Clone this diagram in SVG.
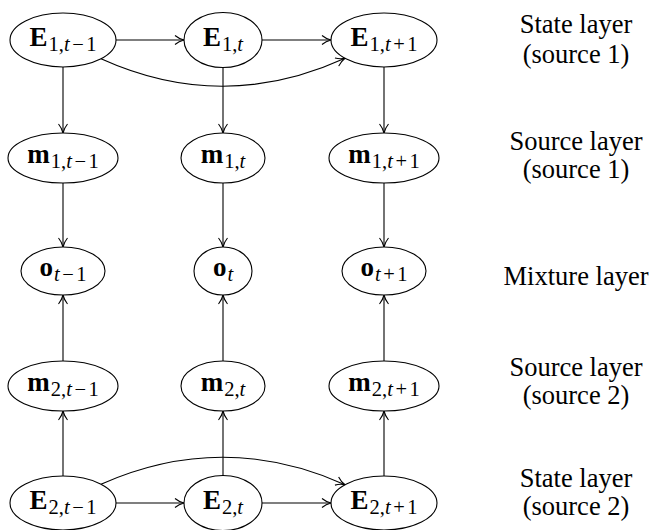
<svg xmlns="http://www.w3.org/2000/svg" width="654" height="530" viewBox="0 0 654 530">
<style>
.node ellipse{fill:#fff;stroke:#000;stroke-width:1.1}
.lbl{font-family:"Liberation Serif","Times New Roman",serif;font-size:27px;fill:#000}
.b{font-weight:bold}
.s{font-size:20.5px}
.i{font-style:italic}
.side{font-family:"Liberation Serif","Times New Roman",serif;font-size:26.5px;fill:#000;text-anchor:middle}
.edge{fill:none;stroke:#000;stroke-width:1.1;marker-end:url(#arr)}
</style>
<defs>
<marker id="arr" markerUnits="userSpaceOnUse" viewBox="-11 -6 13 12" markerWidth="13" markerHeight="12" refX="0" refY="0" orient="auto" overflow="visible">
<path d="M -9 -4.5 C -6 -2 -2 -0.5 0 0 C -2 0.5 -6 2 -9 4.5" fill="none" stroke="#000" stroke-width="1.1"/>
</marker>
</defs>
<g id="connectors">
<path class="edge" d="M116 40 H184"/>
<path class="edge" d="M262 40 H331"/>
<path class="edge" d="M101 58.8 Q223 114 345 58.3"/>
<path class="edge" d="M63 67 V133"/>
<path class="edge" d="M223 67.5 V133"/>
<path class="edge" d="M384 67 V133"/>
<path class="edge" d="M63 183 V247"/>
<path class="edge" d="M223 183 V247"/>
<path class="edge" d="M384 183 V247"/>
<path class="edge" d="M63 361 V295"/>
<path class="edge" d="M223 361 V295"/>
<path class="edge" d="M384 361 V295"/>
<path class="edge" d="M63 476 V411"/>
<path class="edge" d="M223 475.5 V411"/>
<path class="edge" d="M384 476 V411"/>
<path class="edge" d="M116 503 H184"/>
<path class="edge" d="M262 503 H331"/>
<path class="edge" d="M101 484.2 Q223 430 345 484.7"/>
</g>
<g id="E1_tm1" class="node"><ellipse cx="63" cy="40" rx="53" ry="27"/><text class="lbl" x="63" y="46" text-anchor="middle"><tspan class="b">E</tspan><tspan class="s" dx="1" dy="5">1,</tspan><tspan class="s i">t</tspan><tspan class="s" dx="2.5">−</tspan><tspan class="s" dx="2.5">1</tspan></text></g>
<g id="E1_t" class="node"><ellipse cx="223" cy="40" rx="39" ry="27.5"/><text class="lbl" x="223" y="46" text-anchor="middle"><tspan class="b">E</tspan><tspan class="s" dx="1" dy="5">1,</tspan><tspan class="s i">t</tspan></text></g>
<g id="E1_tp1" class="node"><ellipse cx="384" cy="40" rx="53" ry="27"/><text class="lbl" x="384" y="46" text-anchor="middle"><tspan class="b">E</tspan><tspan class="s" dx="1" dy="5">1,</tspan><tspan class="s i">t</tspan><tspan class="s" dx="2.5">+</tspan><tspan class="s" dx="2.5">1</tspan></text></g>
<g id="m1_tm1" class="node"><ellipse cx="63" cy="158" rx="55" ry="25"/><text class="lbl" x="63" y="163" text-anchor="middle"><tspan class="b">m</tspan><tspan class="s" dx="1" dy="5">1,</tspan><tspan class="s i">t</tspan><tspan class="s" dx="2.5">−</tspan><tspan class="s" dx="2.5">1</tspan></text></g>
<g id="m1_t" class="node"><ellipse cx="223" cy="158" rx="42" ry="25"/><text class="lbl" x="223" y="163" text-anchor="middle"><tspan class="b">m</tspan><tspan class="s" dx="1" dy="5">1,</tspan><tspan class="s i">t</tspan></text></g>
<g id="m1_tp1" class="node"><ellipse cx="384" cy="158" rx="55" ry="25"/><text class="lbl" x="384" y="163" text-anchor="middle"><tspan class="b">m</tspan><tspan class="s" dx="1" dy="5">1,</tspan><tspan class="s i">t</tspan><tspan class="s" dx="2.5">+</tspan><tspan class="s" dx="2.5">1</tspan></text></g>
<g id="o_tm1" class="node"><ellipse cx="63" cy="271" rx="42" ry="24"/><text class="lbl" x="63" y="276" text-anchor="middle"><tspan class="b">o</tspan><tspan class="s i" dx="1" dy="5">t</tspan><tspan class="s" dx="2.5">−</tspan><tspan class="s" dx="2.5">1</tspan></text></g>
<g id="o_t" class="node"><ellipse cx="223" cy="271" rx="29" ry="24"/><text class="lbl" x="223" y="276" text-anchor="middle"><tspan class="b">o</tspan><tspan class="s i" dx="1" dy="5">t</tspan></text></g>
<g id="o_tp1" class="node"><ellipse cx="384" cy="271" rx="42" ry="24"/><text class="lbl" x="384" y="276" text-anchor="middle"><tspan class="b">o</tspan><tspan class="s i" dx="1" dy="5">t</tspan><tspan class="s" dx="2.5">+</tspan><tspan class="s" dx="2.5">1</tspan></text></g>
<g id="m2_tm1" class="node"><ellipse cx="63" cy="386" rx="55" ry="25"/><text class="lbl" x="63" y="391" text-anchor="middle"><tspan class="b">m</tspan><tspan class="s" dx="1" dy="5">2,</tspan><tspan class="s i">t</tspan><tspan class="s" dx="2.5">−</tspan><tspan class="s" dx="2.5">1</tspan></text></g>
<g id="m2_t" class="node"><ellipse cx="223" cy="386" rx="42" ry="25"/><text class="lbl" x="223" y="391" text-anchor="middle"><tspan class="b">m</tspan><tspan class="s" dx="1" dy="5">2,</tspan><tspan class="s i">t</tspan></text></g>
<g id="m2_tp1" class="node"><ellipse cx="384" cy="386" rx="55" ry="25"/><text class="lbl" x="384" y="391" text-anchor="middle"><tspan class="b">m</tspan><tspan class="s" dx="1" dy="5">2,</tspan><tspan class="s i">t</tspan><tspan class="s" dx="2.5">+</tspan><tspan class="s" dx="2.5">1</tspan></text></g>
<g id="E2_tm1" class="node"><ellipse cx="63" cy="503" rx="53" ry="27"/><text class="lbl" x="63" y="509" text-anchor="middle"><tspan class="b">E</tspan><tspan class="s" dx="1" dy="5">2,</tspan><tspan class="s i">t</tspan><tspan class="s" dx="2.5">−</tspan><tspan class="s" dx="2.5">1</tspan></text></g>
<g id="E2_t" class="node"><ellipse cx="223" cy="503" rx="39" ry="27.5"/><text class="lbl" x="223" y="509" text-anchor="middle"><tspan class="b">E</tspan><tspan class="s" dx="1" dy="5">2,</tspan><tspan class="s i">t</tspan></text></g>
<g id="E2_tp1" class="node"><ellipse cx="384" cy="503" rx="53" ry="27"/><text class="lbl" x="384" y="509" text-anchor="middle"><tspan class="b">E</tspan><tspan class="s" dx="1" dy="5">2,</tspan><tspan class="s i">t</tspan><tspan class="s" dx="2.5">+</tspan><tspan class="s" dx="2.5">1</tspan></text></g>
<g id="labels">
<text class="side" x="576" y="33">State layer</text>
<text class="side" x="576" y="63">(source 1)</text>
<text class="side" x="576" y="150">Source layer</text>
<text class="side" x="576" y="178">(source 1)</text>
<text class="side" x="576" y="285">Mixture layer</text>
<text class="side" x="576" y="376">Source layer</text>
<text class="side" x="576" y="404">(source 2)</text>
<text class="side" x="576" y="487">State layer</text>
<text class="side" x="576" y="515">(source 2)</text>
</g>
</svg>
